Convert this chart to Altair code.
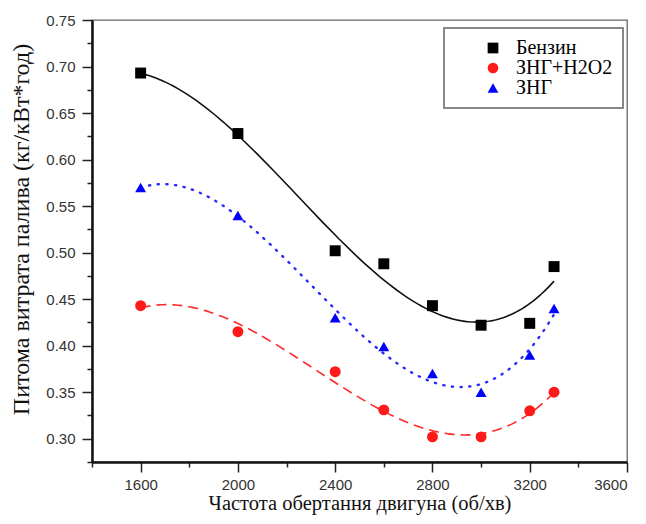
import altair as alt
import pandas as pd

rpm = [1600, 2000, 2400, 2600, 2800, 3000, 3200, 3300]
benzin = [0.693, 0.628, 0.502, 0.488, 0.443, 0.422, 0.424, 0.485]
zng_h2o2 = [0.443, 0.415, 0.372, 0.331, 0.302, 0.302, 0.330, 0.350]
zng = [0.570, 0.540, 0.430, 0.399, 0.370, 0.350, 0.390, 0.440]

series_names = ["Бензин", "ЗНГ+H2O2", "ЗНГ"]
series_colors = ["#000000", "#ff1a1a", "#0000ff"]
series_shapes = ["square", "circle", "triangle-up"]

x_ticks = [1400, 1600, 1800, 2000, 2200, 2400, 2600, 2800, 3000, 3200, 3400, 3600]
y_ticks = [0.275, 0.30, 0.325, 0.35, 0.375, 0.40, 0.425, 0.45, 0.475, 0.50,
           0.525, 0.55, 0.575, 0.60, 0.625, 0.65, 0.675, 0.70, 0.725, 0.75]

rows = []
for name, vals in zip(series_names, [benzin, zng_h2o2, zng]):
    for r, v in zip(rpm, vals):
        rows.append({"rpm": r, "value": v, "series": name})
df = pd.DataFrame(rows)

x_major = "datum.value % 400 == 0"
y_major = "abs(datum.value * 20 - round(datum.value * 20)) < 0.001"

x_axis = alt.Axis(
    values=x_ticks, format="d", grid=False,
    labelExpr=f"{x_major} ? datum.label : ''",
    tickSize={"condition": {"test": x_major, "value": 10}, "value": 5},
    tickColor="#222", tickWidth=1.5, domainColor="#111", domainWidth=2.5,
    labelFont="Liberation Sans", labelFontSize=15, labelColor="#333", labelPadding=5,
    title="Частота обертання двигуна (об/хв)", titleFont="Liberation Serif",
    titleFontSize=20.5, titleFontWeight="normal", titleColor="#111", titlePadding=1,
)
y_axis = alt.Axis(
    values=y_ticks, format=".2f", grid=False,
    labelExpr=f"{y_major} ? datum.label : ''",
    tickSize={"condition": {"test": y_major, "value": 10}, "value": 5},
    tickColor="#222", tickWidth=1.5, domainColor="#111", domainWidth=2.5,
    labelFont="Liberation Sans", labelFontSize=15, labelColor="#333", labelPadding=7,
    title="Питома витрата палива (кг/кВт*год)", titleFont="Liberation Serif",
    titleFontSize=24, titleFontWeight="normal", titleColor="#111", titlePadding=12,
    titleY=209,
)

x_enc = alt.X("rpm:Q", scale=alt.Scale(domain=[1400, 3600], nice=False, zero=False), axis=x_axis)
y_enc = alt.Y("value:Q", scale=alt.Scale(domain=[0.275, 0.75], nice=False, zero=False), axis=y_axis)

line_styles = {
    "Бензин": dict(color="#111111", strokeWidth=1.6),
    "ЗНГ+H2O2": dict(color="#ff2a2a", strokeWidth=1.6, strokeDash=[10, 6]),
    "ЗНГ": dict(color="#2a2aff", strokeWidth=2.4, strokeDash=[1.2, 7.5], strokeCap="round"),
}

layers = []
for name in series_names:
    layers.append(
        alt.Chart(df)
        .transform_filter(alt.datum.series == name)
        .transform_regression("rpm", "value", method="poly", order=3, extent=[1600, 3300])
        .mark_line(**line_styles[name])
        .encode(x=x_enc, y=y_enc)
    )

legend = alt.Legend(
    orient="none", legendX=352, legendY=8, title=None,
    labelFont="Liberation Serif", labelFontSize=20, labelColor="#000",
    symbolSize=115, symbolStrokeWidth=0, padding=10, rowPadding=0,
    symbolOffset=29, labelOffset=13,
    strokeColor="#888", fillColor="white", cornerRadius=0,
)

points = alt.Chart(df).mark_point(filled=True, opacity=1, size=120).encode(
    x=x_enc, y=y_enc,
    color=alt.Color("series:N", scale=alt.Scale(domain=series_names, range=series_colors), legend=legend),
    shape=alt.Shape("series:N", scale=alt.Scale(domain=series_names, range=series_shapes), legend=legend),
)
layers.append(points)

chart = alt.layer(*layers).properties(
    width=535, height=442,
    autosize=alt.AutoSizeParams(type="none"),
    padding={"left": 84, "top": 12, "right": 11, "bottom": 54},
).configure_view(stroke="#666", strokeWidth=1.3).configure_legend(strokeWidth=2)

chart.save("out.html", embed_options={"renderer": "svg", "actions": False})
